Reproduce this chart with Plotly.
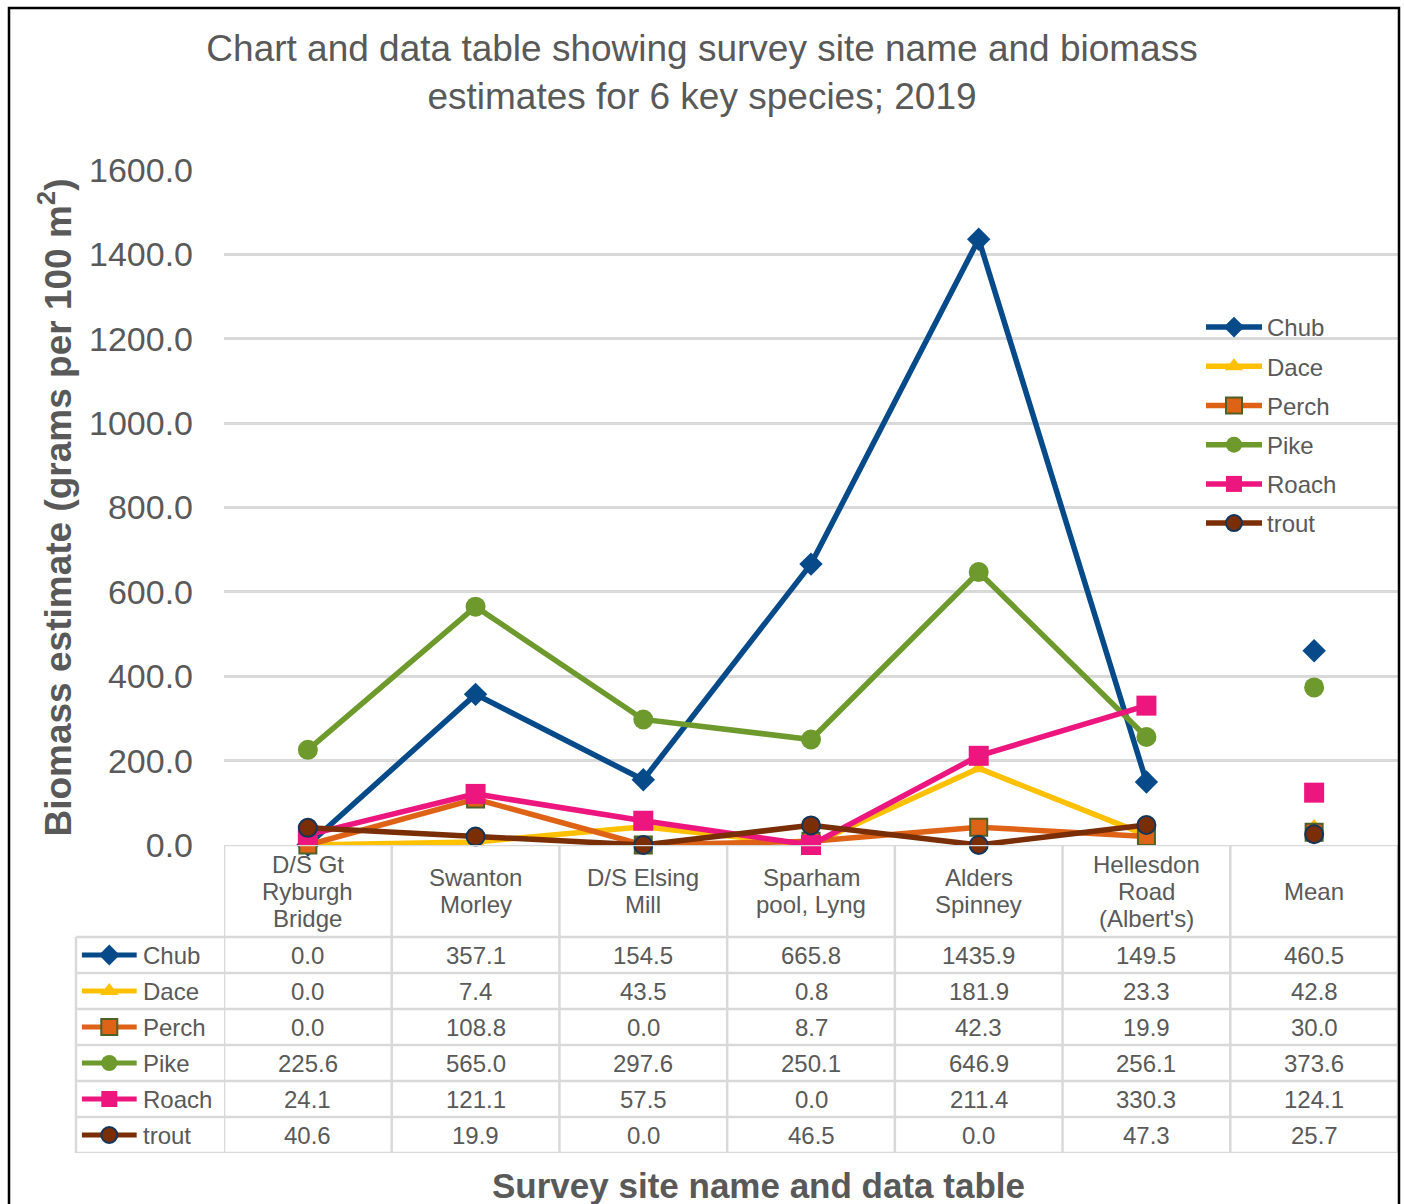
import plotly.graph_objects as go

# Survey sites (header labels of the data table); "\n" marks a line break
sites = [
    "D/S Gt\nRyburgh\nBridge",
    "Swanton\nMorley",
    "D/S Elsing\nMill",
    "Sparham\npool, Lyng",
    "Alders\nSpinney",
    "Hellesdon\nRoad\n(Albert's)",
    "Mean",
]

# Biomass estimates, grams per 100 m^2 (last value is the mean)
chub = [0.0, 357.1, 154.5, 665.8, 1435.9, 149.5, 460.5]
dace = [0.0, 7.4, 43.5, 0.8, 181.9, 23.3, 42.8]
perch = [0.0, 108.8, 0.0, 8.7, 42.3, 19.9, 30.0]
pike = [225.6, 565.0, 297.6, 250.1, 646.9, 256.1, 373.6]
roach = [24.1, 121.1, 57.5, 0.0, 211.4, 330.3, 124.1]
trout = [40.6, 19.9, 0.0, 46.5, 0.0, 47.3, 25.7]

species = ["Chub", "Dace", "Perch", "Pike", "Roach", "trout"]
values = [chub, dace, perch, pike, roach, trout]

y_ticks = [0, 200, 400, 600, 800, 1000, 1200, 1400, 1600]

W, H = 1404, 1204
TXT = "#595959"
GRID = "#D9D9D9"
FONT = "Arial, Liberation Sans, sans-serif"

styles = [
    dict(color="#064A8A", symbol="diamond", size=18, lc=None, lw=0),
    dict(color="#FFC000", symbol="triangle-up", size=16, lc=None, lw=0),
    dict(color="#DE6317", symbol="square", size=17, lc="#4E6127", lw=2),
    dict(color="#6E992D", symbol="circle", size=20, lc=None, lw=0),
    dict(color="#EC167E", symbol="square", size=20, lc=None, lw=0),
    dict(color="#7A2E06", symbol="circle", size=18, lc="#12355B", lw=2),
]


def px_x(p):
    return p / W


def px_y(p):
    return 1 - p / H


fig = go.Figure()

n_sites = len(sites)
pos = list(range(n_sites))

# Site series joined by a line; the mean column is a detached point
for name, vals, st in zip(species, values, styles):
    xs = pos[:-1] + [None] + pos[-1:]
    ys = vals[:-1] + [None] + vals[-1:]
    fig.add_trace(go.Scatter(
        x=xs, y=ys, name=name, mode="lines+markers",
        line=dict(color=st["color"], width=5.5),
        marker=dict(symbol=st["symbol"], size=st["size"], color=st["color"],
                    line=dict(color=st["lc"] or st["color"], width=st["lw"])),
        cliponaxis=False, connectgaps=False, legendgroup=name,
        xaxis="x", yaxis="y",
    ))

# Legend keys for the data table rows
for i, (name, st) in enumerate(zip(species, styles)):
    fig.add_trace(go.Scatter(
        x=[0.04, 0.41], y=[i, i], mode="lines",
        line=dict(color=st["color"], width=5),
        showlegend=False, hoverinfo="skip", legendgroup=name,
        xaxis="x3", yaxis="y3", cliponaxis=False,
    ))
    fig.add_trace(go.Scatter(
        x=[0.225], y=[i], mode="markers",
        marker=dict(symbol=st["symbol"], size=min(st["size"], 16), color=st["color"],
                    line=dict(color=st["lc"] or st["color"], width=st["lw"])),
        showlegend=False, hoverinfo="skip", legendgroup=name,
        xaxis="x3", yaxis="y3", cliponaxis=False,
    ))

# Table geometry: rows of the data table in units of the row index
ROW_PX = 36.0
HEAD_PX = 92.0
table_top, table_bot = 845, 1153
head_units = HEAD_PX / ROW_PX
y3_top = -0.5 - head_units
y3_bot = len(species) - 0.5

annotations = []
shapes = []
TFONT = dict(size=24, color=TXT, family=FONT)

# Header: site names
head_mid = -0.5 - head_units / 2
for c, label in enumerate(sites):
    lines = label.split("\n")
    k = len(lines)
    for j, ln in enumerate(lines):
        annotations.append(dict(
            x=c, xref="x", y=head_mid + (j - (k - 1) / 2) * 0.75, yref="y3",
            text=ln, showarrow=False, font=TFONT,
            xanchor="center", yanchor="middle",
        ))

# Body: values and row labels
for r, (name, vals) in enumerate(zip(species, values)):
    annotations.append(dict(
        x=0.44, xref="x3", y=r, yref="y3", text=name, showarrow=False,
        font=TFONT, xanchor="left", yanchor="middle",
    ))
    for c, v in enumerate(vals):
        annotations.append(dict(
            x=c, xref="x", y=r, yref="y3", text=f"{v:.1f}", showarrow=False,
            font=TFONT, xanchor="center", yanchor="middle",
        ))

# Horizontal table rules
shapes.append(dict(type="line", xref="paper", yref="y3",
                   x0=px_x(224), x1=px_x(1398), y0=y3_top, y1=y3_top,
                   line=dict(color=GRID, width=2.5)))
for r in range(len(species) + 1):
    shapes.append(dict(type="line", xref="paper", yref="y3",
                       x0=px_x(76), x1=px_x(1398), y0=r - 0.5, y1=r - 0.5,
                       line=dict(color=GRID, width=2.5)))
# Vertical table rules
for c in range(n_sites + 1):
    shapes.append(dict(type="line", xref="x", yref="y3",
                       x0=c - 0.5, x1=c - 0.5, y0=y3_top, y1=y3_bot,
                       line=dict(color=GRID, width=2.5)))
shapes.append(dict(type="line", xref="paper", yref="y3",
                   x0=px_x(76), x1=px_x(76), y0=-0.5, y1=y3_bot,
                   line=dict(color=GRID, width=2.5)))

# Chart frame
shapes.append(dict(type="rect", xref="paper", yref="paper",
                   x0=px_x(9), x1=px_x(1399), y0=-0.05, y1=px_y(8),
                   line=dict(color="#000000", width=2.5), layer="above"))

# X-axis title beneath the table
annotations.append(dict(
    x=px_x(758), xref="paper", y=px_y(1185), yref="paper",
    text="<b>Survey site name and data table</b>", showarrow=False,
    font=dict(size=35, color=TXT, family=FONT), xanchor="center", yanchor="middle",
))

fig.update_layout(
    width=W, height=H,
    margin=dict(l=0, r=0, t=0, b=0, autoexpand=False),
    paper_bgcolor="white", plot_bgcolor="white",
    font=dict(family=FONT, color=TXT),
    title=dict(
        text="Chart and data table showing survey site name and biomass<br>estimates for 6 key species; 2019",
        x=0.5, xanchor="center", xref="paper",
        y=px_y(61), yanchor="middle", yref="paper",
        font=dict(size=37, color=TXT, family=FONT),
    ),
    xaxis=dict(
        domain=[px_x(224), px_x(1398)], range=[-0.5, n_sites - 0.5],
        showticklabels=False, showgrid=False, zeroline=False, showline=False,
        ticks="", fixedrange=True,
    ),
    yaxis=dict(
        domain=[px_y(845), px_y(170)], range=[0, 1600],
        tickvals=y_ticks, tickformat=".1f",
        tickfont=dict(size=34, color=TXT, family=FONT),
        showgrid=True, gridcolor=GRID, gridwidth=2.5,
        zeroline=False, showline=False, ticks="", ticklabelstandoff=30,
        title=dict(text="<b>Biomass estimate (grams per 100 m<sup>2</sup>)</b>",
                   font=dict(size=37, color=TXT, family=FONT), standoff=6),
    ),
    xaxis3=dict(
        domain=[px_x(76), px_x(224)], range=[0, 1], anchor="y3",
        visible=False, fixedrange=True,
    ),
    yaxis3=dict(
        domain=[px_y(table_bot), px_y(table_top)], range=[y3_bot, y3_top], anchor="x3",
        visible=False, fixedrange=True,
    ),
    legend=dict(
        x=px_x(1201), y=px_y(305), xanchor="left", yanchor="top",
        bgcolor="rgba(0,0,0,0)", borderwidth=0,
        font=dict(size=24, color=TXT, family=FONT),
        traceorder="grouped", tracegroupgap=5, itemwidth=56,
    ),
    showlegend=True,
    annotations=annotations,
    shapes=shapes,
)

fig.write_html("out.html")
